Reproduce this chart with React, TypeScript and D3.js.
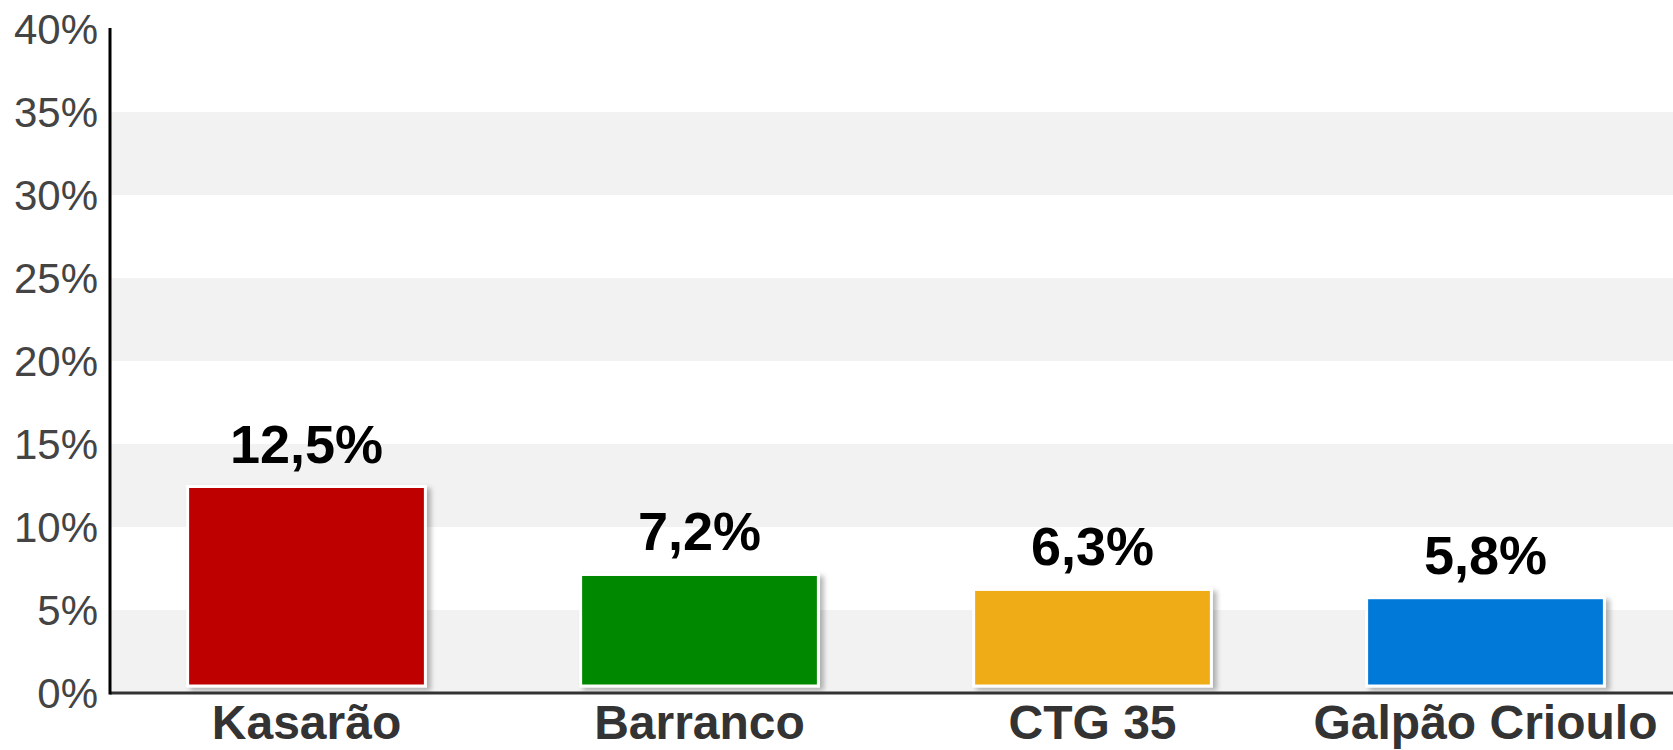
import React, { useEffect, useRef } from 'react';
import * as d3 from 'd3';

// data
const categories = ['Kasarão', 'Barranco', 'CTG 35', 'Galpão Crioulo'];
const values = [12.5, 7.2, 6.3, 5.8];
const valueLabels = ['12,5%', '7,2%', '6,3%', '5,8%'];
const barColors = ['#bf0000', '#008800', '#f0ac13', '#0079d9'];
const yTicks = [0, 5, 10, 15, 20, 25, 30, 35, 40];

export default function App() {
	const ref = useRef<SVGSVGElement>(null);

	useEffect(() => {
		document.body.style.margin = '0';
		const width = 1673;
		const height = 750;
		const svg = d3.select(ref.current);
		svg.selectAll('*').remove();

		// plot area, right side runs past the window like in the picture
		const margin = { left: 110, top: 29, bottom: 57 };
		const plotRight = 1682;
		const y0 = height - margin.bottom;

		const y = d3.scaleLinear().domain([0, 40]).range([y0, margin.top]);
		const x = d3.scaleBand<string>()
			.domain(categories)
			.range([margin.left, plotRight])
			.paddingInner(0.395)
			.paddingOuter(0.1975);

		const defs = svg.append('defs');
		const f = defs.append('filter').attr('id', 'shadow')
			.attr('x', '-10%').attr('y', '-10%').attr('width', '130%').attr('height', '130%');
		f.append('feDropShadow')
			.attr('dx', 4).attr('dy', 3).attr('stdDeviation', 2.5)
			.attr('flood-color', '#000').attr('flood-opacity', 0.28);

		// alternating bands
		const bands = d3.range(0, 40, 10);
		svg.append('g').selectAll('rect')
			.data(bands)
			.enter()
			.append('rect')
			.attr('x', margin.left)
			.attr('width', plotRight - margin.left)
			.attr('y', d => y(d + 5))
			.attr('height', d => y(d) - y(d + 5))
			.attr('fill', '#f2f2f2');

		// y tick labels
		svg.append('g').selectAll('text')
			.data(yTicks)
			.enter()
			.append('text')
			.attr('x', 98)
			.attr('y', d => y(d))
			.attr('dy', '0.36em')
			.attr('text-anchor', 'end')
			.attr('font-family', 'Liberation Sans, Arial, sans-serif')
			.attr('font-size', 42)
			.attr('fill', '#444')
			.text(d => d + '%');

		// bars
		svg.append('g').selectAll('rect')
			.data(values)
			.enter()
			.append('rect')
			.attr('x', (d, i) => x(categories[i])!)
			.attr('width', x.bandwidth())
			.attr('y', d => y(d) + 1)
			.attr('height', d => y(0) - y(d) - 8)
			.attr('fill', (d, i) => barColors[i])
			.attr('stroke', '#fff')
			.attr('stroke-width', 3)
			.attr('filter', 'url(#shadow)');

		// value labels
		svg.append('g').selectAll('text')
			.data(values)
			.enter()
			.append('text')
			.attr('x', (d, i) => x(categories[i])! + x.bandwidth() / 2)
			.attr('y', d => y(d) - 23)
			.attr('text-anchor', 'middle')
			.attr('font-family', 'Liberation Sans, Arial, sans-serif')
			.attr('font-weight', 'bold')
			.attr('font-size', 54)
			.attr('fill', '#000')
			.text((d, i) => valueLabels[i]);

		// axes lines
		svg.append('line')
			.attr('x1', margin.left).attr('x2', plotRight)
			.attr('y1', y0).attr('y2', y0)
			.attr('stroke', '#333').attr('stroke-width', 3);
		svg.append('line')
			.attr('x1', margin.left).attr('x2', margin.left)
			.attr('y1', margin.top - 1).attr('y2', y0 + 1.5)
			.attr('stroke', '#000').attr('stroke-width', 3);

		// category labels
		svg.append('g').selectAll('text')
			.data(categories)
			.enter()
			.append('text')
			.attr('x', d => x(d)! + x.bandwidth() / 2)
			.attr('y', 739)
			.attr('text-anchor', 'middle')
			.attr('font-family', 'Liberation Sans, Arial, sans-serif')
			.attr('font-weight', 'bold')
			.attr('font-size', 48)
			.attr('fill', '#333')
			.text(d => d);

		svg.attr('width', width).attr('height', height);
	}, []);

	return <svg ref={ref} width={1673} height={750} style={{ display: 'block', background: '#fff' }} />;
}
